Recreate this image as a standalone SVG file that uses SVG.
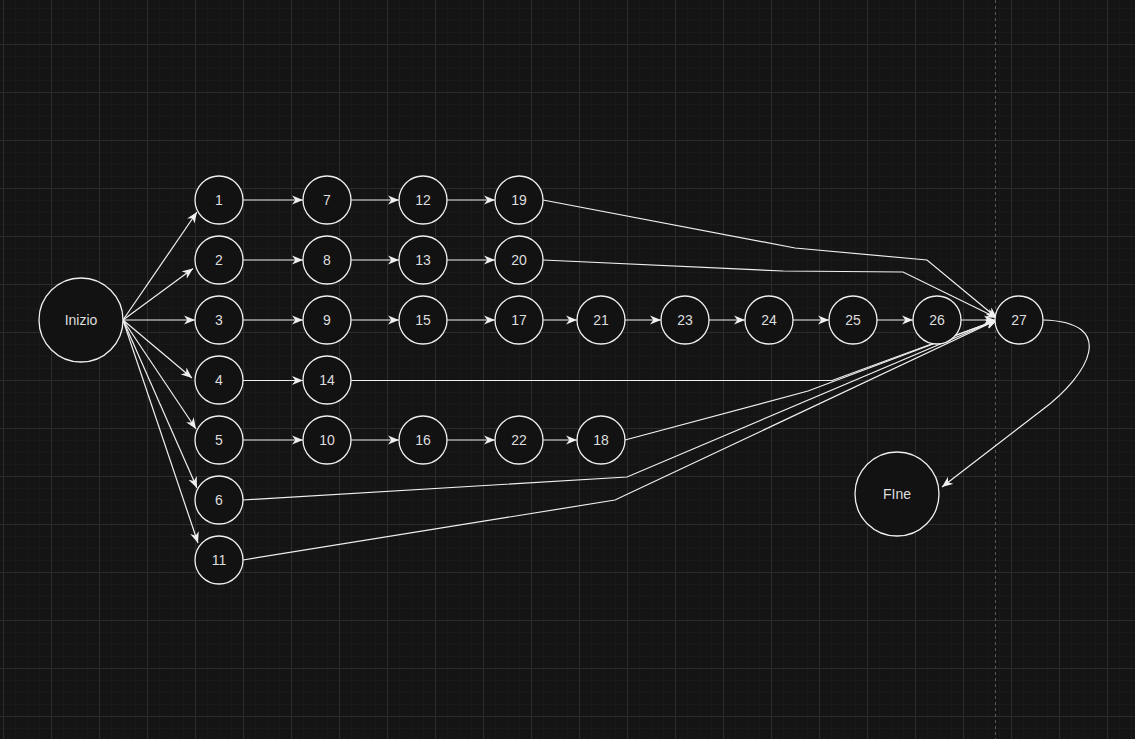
<svg xmlns="http://www.w3.org/2000/svg" width="1135" height="739" viewBox="0 0 1135 739">
<style>
.n circle{fill:#121212;stroke:#f0f0f0;stroke-width:1.3}
.n text{fill:#dedede;font-family:"Liberation Sans",Arial,sans-serif;font-size:14px;text-anchor:middle;dominant-baseline:central}
.e{fill:none;stroke:#f0f0f0;stroke-width:1.2;marker-end:url(#arr)}
</style>
<defs>
<pattern id="grid" patternUnits="userSpaceOnUse" x="3" y="-4" width="48" height="48">
<rect width="48" height="48" fill="#141414"/>
<path d="M12.5,0V48M24.5,0V48M36.5,0V48M0,12.5H48M0,24.5H48M0,36.5H48" stroke="#191919" stroke-width="1"/>
<path d="M0.5,0V48M0,0.5H48" stroke="#2c2c2c" stroke-width="1"/>
</pattern>
<marker id="arr" markerUnits="userSpaceOnUse" markerWidth="12" markerHeight="10" refX="11" refY="5" orient="auto">
<path d="M0,0.5L11,5L0,9.5L3.3,5Z" fill="#f0f0f0"/>
</marker>
</defs>
<rect width="1135" height="739" fill="url(#grid)"/>
<line x1="995.5" y1="0" x2="995.5" y2="739" stroke="#5a5a5a" stroke-width="1" stroke-dasharray="3 3"/>
<g id="connectors">
<path class="e" d="M123,320L197,212"/>
<path class="e" d="M123,320L193,268.5"/>
<path class="e" d="M123,320L195,320"/>
<path class="e" d="M123,320L192,378"/>
<path class="e" d="M123,320L196,429"/>
<path class="e" d="M123,320L197,488"/>
<path class="e" d="M123,320L198,543"/>
<path class="e" d="M243,200H303"/>
<path class="e" d="M351,200H399"/>
<path class="e" d="M447,200H495"/>
<path class="e" d="M243,260H303"/>
<path class="e" d="M351,260H399"/>
<path class="e" d="M447,260H495"/>
<path class="e" d="M243,320H303"/>
<path class="e" d="M351,320H399"/>
<path class="e" d="M447,320H495"/>
<path class="e" d="M543,320H577"/>
<path class="e" d="M625,320H661"/>
<path class="e" d="M709,320H745"/>
<path class="e" d="M793,320H829"/>
<path class="e" d="M877,320H913"/>
<path class="e" d="M961,320H995"/>
<path class="e" d="M243,380.5H303"/>
<path class="e" d="M243,440H303"/>
<path class="e" d="M351,440H399"/>
<path class="e" d="M447,440H495"/>
<path class="e" d="M543,440H577"/>
<path class="e" d="M543,200L795,248L927,260L997,318"/>
<path class="e" d="M543,260L783,271L903,272L997,318"/>
<path class="e" d="M351,380.5L832,380.5L997,320"/>
<path class="e" d="M625,440L808,391L997,320"/>
<path class="e" d="M243,500L627,477L997,320"/>
<path class="e" d="M243,560L615,500L997,320"/>
<path class="e" d="M1043,320C1118,322 1090,374 1042,410L942,487"/>
</g>
<g id="node-inizio" class="n"><circle cx="81" cy="320" r="42"/><text x="81" y="320">Inizio</text></g>
<g id="node-fine" class="n"><circle cx="897" cy="494" r="42"/><text x="897" y="494">FIne</text></g>
<g id="node-1" class="n"><circle cx="219" cy="200" r="24"/><text x="219" y="200">1</text></g>
<g id="node-2" class="n"><circle cx="219" cy="260" r="24"/><text x="219" y="260">2</text></g>
<g id="node-3" class="n"><circle cx="219" cy="320" r="24"/><text x="219" y="320">3</text></g>
<g id="node-4" class="n"><circle cx="219" cy="380" r="24"/><text x="219" y="380">4</text></g>
<g id="node-5" class="n"><circle cx="219" cy="440" r="24"/><text x="219" y="440">5</text></g>
<g id="node-6" class="n"><circle cx="219" cy="500" r="24"/><text x="219" y="500">6</text></g>
<g id="node-11" class="n"><circle cx="219" cy="560" r="24"/><text x="219" y="560">11</text></g>
<g id="node-7" class="n"><circle cx="327" cy="200" r="24"/><text x="327" y="200">7</text></g>
<g id="node-8" class="n"><circle cx="327" cy="260" r="24"/><text x="327" y="260">8</text></g>
<g id="node-9" class="n"><circle cx="327" cy="320" r="24"/><text x="327" y="320">9</text></g>
<g id="node-14" class="n"><circle cx="327" cy="380" r="24"/><text x="327" y="380">14</text></g>
<g id="node-10" class="n"><circle cx="327" cy="440" r="24"/><text x="327" y="440">10</text></g>
<g id="node-12" class="n"><circle cx="423" cy="200" r="24"/><text x="423" y="200">12</text></g>
<g id="node-13" class="n"><circle cx="423" cy="260" r="24"/><text x="423" y="260">13</text></g>
<g id="node-15" class="n"><circle cx="423" cy="320" r="24"/><text x="423" y="320">15</text></g>
<g id="node-16" class="n"><circle cx="423" cy="440" r="24"/><text x="423" y="440">16</text></g>
<g id="node-19" class="n"><circle cx="519" cy="200" r="24"/><text x="519" y="200">19</text></g>
<g id="node-20" class="n"><circle cx="519" cy="260" r="24"/><text x="519" y="260">20</text></g>
<g id="node-17" class="n"><circle cx="519" cy="320" r="24"/><text x="519" y="320">17</text></g>
<g id="node-22" class="n"><circle cx="519" cy="440" r="24"/><text x="519" y="440">22</text></g>
<g id="node-21" class="n"><circle cx="601" cy="320" r="24"/><text x="601" y="320">21</text></g>
<g id="node-18" class="n"><circle cx="601" cy="440" r="24"/><text x="601" y="440">18</text></g>
<g id="node-23" class="n"><circle cx="685" cy="320" r="24"/><text x="685" y="320">23</text></g>
<g id="node-24" class="n"><circle cx="769" cy="320" r="24"/><text x="769" y="320">24</text></g>
<g id="node-25" class="n"><circle cx="853" cy="320" r="24"/><text x="853" y="320">25</text></g>
<g id="node-26" class="n"><circle cx="937" cy="320" r="24"/><text x="937" y="320">26</text></g>
<g id="node-27" class="n"><circle cx="1019" cy="320" r="24"/><text x="1019" y="320">27</text></g>
</svg>
